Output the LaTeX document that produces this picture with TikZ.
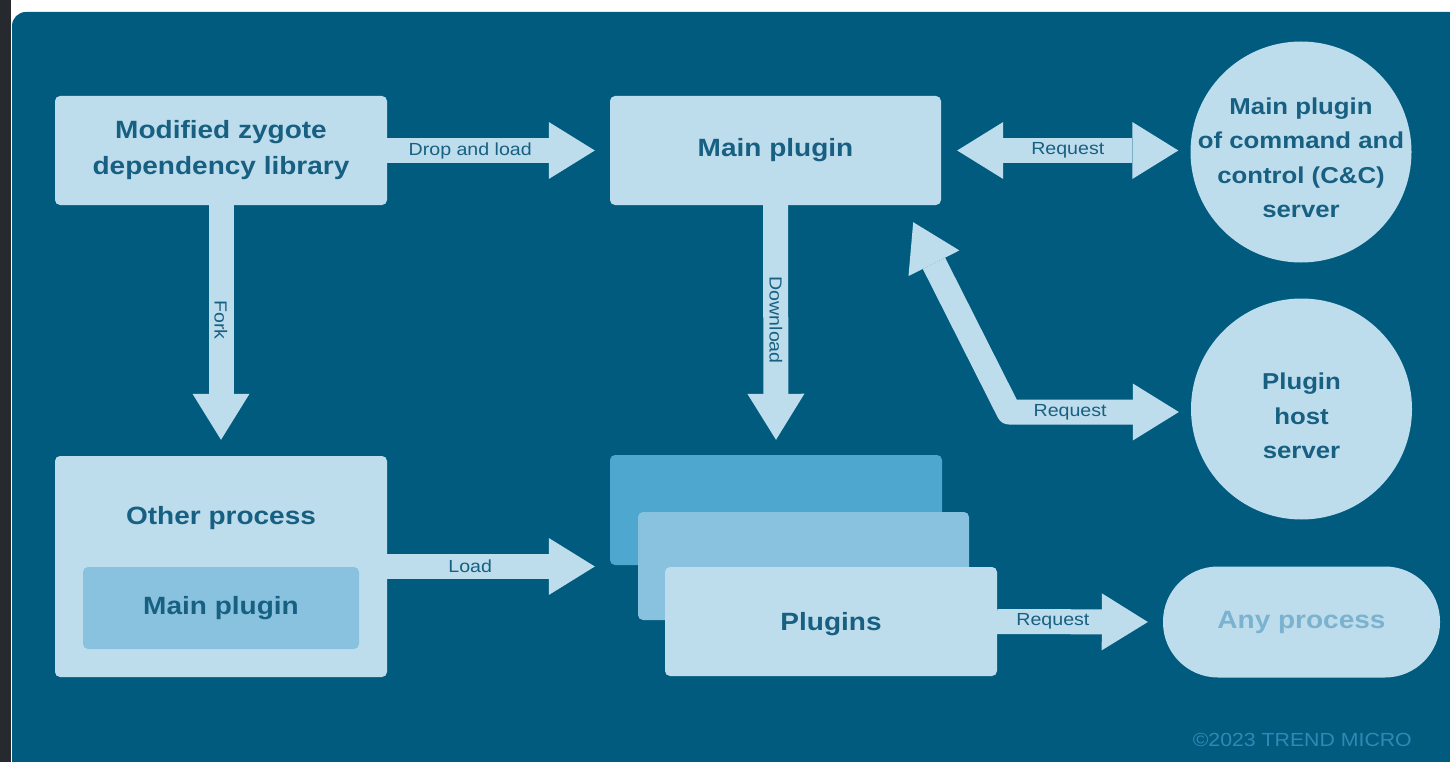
\documentclass[tikz,border=0pt]{standalone}
\usepackage{fontspec}
\setmainfont{Liberation Sans}[FakeStretch=1.12]
\usetikzlibrary{arrows.meta,calc}
\definecolor{panel}{RGB}{0,91,127}
\definecolor{pale}{RGB}{190,221,236}
\definecolor{midblue}{RGB}{136,194,222}
\definecolor{deepcard}{RGB}{78,167,206}
\definecolor{ink}{RGB}{24,96,130}
\definecolor{faint}{RGB}{122,178,207}
\definecolor{credit}{RGB}{50,136,180}
\definecolor{frame}{RGB}{38,42,47}
\begin{document}
\begin{tikzpicture}[x=1pt,y=-1pt,
  card/.style={rectangle, rounded corners=5pt, inner sep=0pt, align=center,
    text=ink, font=\bfseries\fontsize{25}{36}\selectfont},
  pale card/.style={card, fill=pale},
  roundnode/.style={circle, fill=pale, inner sep=0pt, minimum size=221pt},
  roundtext/.style={align=center, text=ink, inner sep=0pt,
    font=\bfseries\fontsize{23}{34.5}\selectfont},
  head/.tip={Triangle[length=46pt,width=57pt,line width=0pt 0]},
  shaft/.style={draw=pale, line width=25pt},
  flow/.style={shaft, -head},
  twoway/.style={shaft, head-head},
  tag/.style={text=ink, font=\fontsize{17.5}{17.5}\selectfont, inner sep=0pt},
]
\useasboundingbox (0,0) rectangle (1450,762);
\fill[white] (0,0) rectangle (1450,762);
\begin{scope}
  \clip (0,0) rectangle (1450,762);
  \fill[panel, rounded corners=14pt] (12,12) rectangle (1480,800);
\end{scope}
\fill[frame] (0,0) rectangle (11,762);

% boxes
\node[pale card, minimum width=332pt, minimum height=109pt] (zyg) at (221,150.5)
  {Modified zygote\\dependency library};
\node[pale card, minimum width=331pt, minimum height=109pt] (mp) at (775.5,150.5)
  {Main plugin};
\node[roundnode] (cc) at (1301,152) {};
\node[roundtext] (cctext) at (1301,158)
  {Main plugin\\of command and\\control (C\&C)\\server};
\node[roundnode] (host) at (1301.5,409) {};
\node[roundtext] (hosttext) at (1301.5,416) {Plugin\\host\\server};

\node[pale card, minimum width=332pt, minimum height=221pt] (other) at (221,566.5) {};
\node[card, fill=none] (othertitle) at (221,518) {Other process};
\node[card, fill=midblue, minimum width=276pt, minimum height=82pt] (inner) at (221,608)
  {Main plugin};

% stacked plugin cards
\node[card, fill=deepcard, minimum width=332pt, minimum height=110pt] (back) at (776,510) {};
\node[card, fill=midblue, minimum width=331pt, minimum height=108pt] (middle) at (803.5,566) {};
\node[pale card, minimum width=332pt, minimum height=109pt] (front) at (831,621.5) {};
\node[card, fill=none] (plugins) at (831,624) {Plugins};

\node[pale card, rounded corners=55pt, minimum width=277pt, minimum height=111pt,
  text=faint] (any) at (1301.5,622) {Any process};

% connectors
\draw[flow] (zyg.east) -- node[tag, pos=0.4] {Drop and load} ($(mp.west)+(-15,0)$);
\draw[flow] (zyg.south) -- node[tag, rotate=-90, pos=0.49] {Fork} ($(other.north)+(0,-16)$);
\draw[flow] (mp.south) -- node[tag, rotate=-90, pos=0.49] {Download} ($(back.north)+(0,-15)$);

\coordinate (ccL) at ($(mp.east)+(16,0)$);
\draw[twoway] (ccL) -- node[tag] {Request} ($(ccL -| cc.west)+(-12,0)$);

\coordinate (bendtip) at ($(mp.south east)+(-28,17)$);
\coordinate (bend) at (1009,412);
\draw[twoway, line join=round] (bendtip) -- (bend)
  -- node[tag, pos=0.36] {Request} ($(bend -| host.west)+(-12,0)$);

\draw[flow] (other.east) -- node[tag, pos=0.4] {Load} ($(back.west |- other.east)+(-15,0)$);
\draw[flow] (front.east) -- node[tag, pos=0.37] {Request} ($(any.west)+(-15,0)$);

\node[text=credit, font=\fontsize{19}{19}\selectfont, anchor=east, inner sep=0pt]
  (credit) at (1412,740) {©2023 TREND MICRO};
\end{tikzpicture}
\end{document}
